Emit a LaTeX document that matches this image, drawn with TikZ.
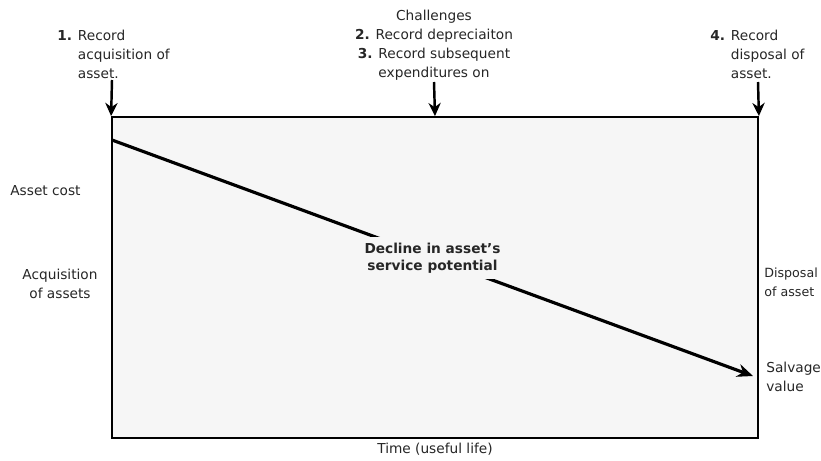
\documentclass[tikz,border=0pt]{standalone}
\usepackage{fontspec}
\setmainfont{DejaVu Sans}
\usetikzlibrary{arrows.meta}
\begin{document}
\begin{tikzpicture}[x=0.02cm, y=-0.02cm]

% Keep the page the size of the reference
\useasboundingbox (0,0) rectangle (821,460);

% Define styles for labels, box and arrows
\tikzstyle{txt} = [inner sep=0pt, text=black!85, font=\fontsize{7.8}{10.8}\selectfont]
\tikzstyle{life} = [draw=black, line width=1.1pt, fill=gray!7, inner sep=0pt, minimum width=12.92cm, minimum height=6.42cm]
\tikzstyle{down} = [line width=1.4pt, -{Stealth[length=7.5pt, width=7pt]}]
\tikzstyle{decline} = [line width=1.8pt, -{Stealth[length=9pt, width=7.5pt]}]

% The useful life of the asset
\node[life] (box) at (435,277.5) {};

% Steps above the box
\node[txt, anchor=north west] (step1) at (57,27) {\begin{tabular}{@{}l@{ }l@{}}\textbf{1.}&Record\\&acquisition of\\&asset.\end{tabular}};
\node[txt, align=center, anchor=north] (step23) at (434,10) {Challenges\\\textbf{2.} Record depreciaiton\\\textbf{3.} Record subsequent\\expenditures on};
\node[txt, anchor=north west] (step4) at (710,27) {\begin{tabular}{@{}l@{ }l@{}}\textbf{4.}&Record\\&disposal of\\&asset.\end{tabular}};

\coordinate (s1) at (112,80);
\coordinate (s23) at (434,82);
\coordinate (s4) at (758,82);
\draw[down] (s1) -- (box.north west);
\draw[down] (s23) -- (box.north);
\draw[down] (s4) -- (box.north east);

% Decline of the service potential
\coordinate (cost) at (112,140);
\coordinate (salvage) at (753,376);
\draw[decline] (cost) -- (salvage)
	node[txt, midway, fill=gray!7, inner sep=3pt, align=center, font=\fontsize{7.8}{10}\selectfont\bfseries] (decline) {Decline in asset's\\service potential};

% Labels at the sides
\node[txt, anchor=west] (costlbl) at (10,191) {Asset cost};
\node[txt, align=center] (acq) at (60,284) {Acquisition\\of assets};
\node[txt, align=left, anchor=west, font=\fontsize{7.2}{10.8}\selectfont] (disp) at (764,282) {Disposal\\of asset};
\node[txt, align=left, anchor=west] (salv) at (766,377) {Salvage\\value};
\node[txt] (time) at (435,449) {Time (useful life)};

\end{tikzpicture}
\end{document}
